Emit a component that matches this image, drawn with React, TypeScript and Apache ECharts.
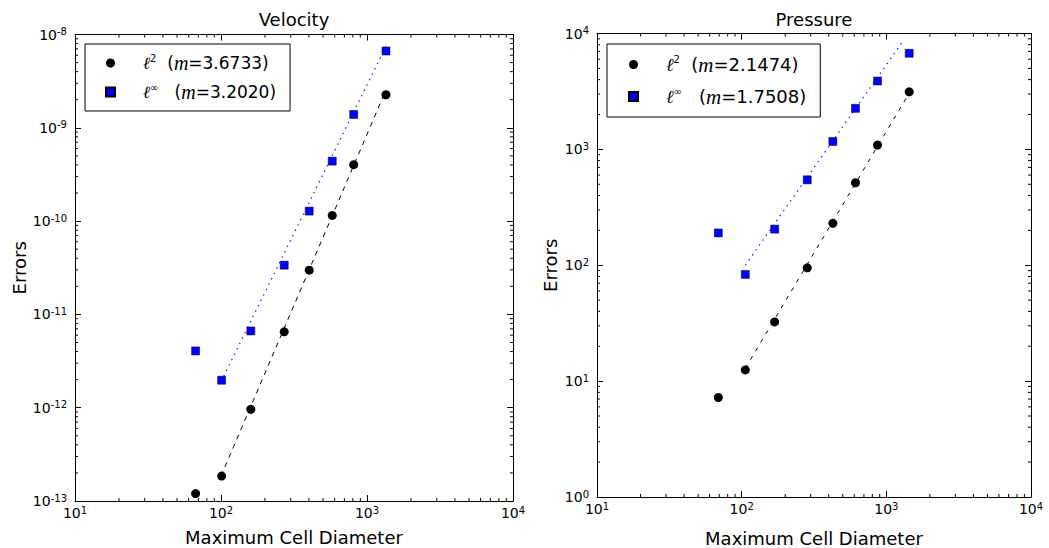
import React, { useEffect, useRef } from "react";
import * as echarts from "echarts";

// ---------- data ----------
const velocityDiameter = [67, 101, 160, 271, 402, 578, 811, 1349];
const velocityL2 = [1.2e-13, 1.85e-13, 9.6e-13, 6.5e-12, 2.98e-11, 1.15e-10, 4.02e-10, 2.26e-9];
const velocityLinf = [4.06e-12, 1.97e-12, 6.65e-12, 3.37e-11, 1.28e-10, 4.39e-10, 1.39e-9, 6.65e-9];
const velocityL2Fit = [[100, 1.85e-13], [1350, 2.55e-9]];
const velocityLinfFit = [[100, 1.9e-12], [1350, 7.5e-9]];
const velocitySlopes = ["3.6733", "3.2020"];

const pressureDiameter = [69, 106, 169, 284, 427, 612, 869, 1439];
const pressureL2 = [7.22, 12.5, 32.4, 95, 230, 515, 1090, 3140];
const pressureLinf = [190, 83.3, 205, 546, 1170, 2260, 3890, 6750];
const pressureL2Fit = [[106, 12.9], [1530, 3480]];
const pressureLinfFit = [[106, 100], [1330, 8900]];
const pressureSlopes = ["2.1474", "1.7508"];

const xRange = [10, 10000];
const velocityRange = [1e-13, 1e-8];
const pressureRange = [1, 10000];

const titles = ["Velocity", "Pressure"];
const xLabel = "Maximum Cell Diameter";
const yLabel = "Errors";

// ---------- helpers ----------
const FONT = "DejaVu Sans";
const tickFmt = (v: number) => `{b|10}{s|${Math.round(Math.log10(v))}}`;
const tickRich = {
  b: { fontFamily: FONT, fontSize: 14, lineHeight: 16, color: "#000" },
  s: { fontFamily: FONT, fontSize: 10, lineHeight: 10, verticalAlign: "top", color: "#000" },
};

const zip = (xs: number[], ys: number[]) => xs.map((x, i) => [x, ys[i]]);

const minorValues = (lo: number, hi: number) => {
  const out: number[] = [];
  const e0 = Math.round(Math.log10(lo));
  const e1 = Math.round(Math.log10(hi));
  for (let e = e0; e < e1; e++) {
    for (let k = 2; k <= 9; k++) out.push(k * Math.pow(10, e));
  }
  return out;
};

const grids = [
  { left: 75, top: 34.5, width: 438, height: 466.5 },
  { left: 597, top: 33.5, width: 434, height: 463.5 },
];

function axesFor(gi: number, yRange: number[], xNameGap: number, yNameGap: number) {
  const common = {
    type: "log",
    logBase: 10,
    gridIndex: gi,
    splitLine: { show: false },
    axisLine: { show: true, onZero: false, lineStyle: { color: "#000", width: 1 } },
    axisTick: { show: true, inside: true, length: 6, lineStyle: { color: "#000", width: 1 } },
    axisLabel: {
      formatter: tickFmt,
      rich: tickRich,
      fontFamily: FONT,
      fontSize: 14,
      color: "#000",
      margin: 4,
    },
  };
  const nameStyle = { fontFamily: FONT, fontSize: 18, color: "#000" };
  const xs = [
    {
      ...common,
      min: xRange[0],
      max: xRange[1],
      position: "bottom",
      name: xLabel,
      nameLocation: "middle",
      nameGap: xNameGap,
      nameTextStyle: nameStyle,
    },
    {
      ...common,
      min: xRange[0],
      max: xRange[1],
      position: "top",
      axisLabel: { show: false },
    },
  ];
  const ys = [
    {
      ...common,
      min: yRange[0],
      max: yRange[1],
      position: "left",
      name: yLabel,
      nameLocation: "middle",
      nameGap: yNameGap,
      nameTextStyle: nameStyle,
      axisLabel: { ...common.axisLabel, margin: 8 },
    },
    {
      ...common,
      min: yRange[0],
      max: yRange[1],
      position: "right",
      axisLabel: { show: false },
    },
  ];
  return { xs, ys };
}

function minorTickSeries(gi: number, yRange: number[]) {
  const xi = gi * 2;
  const yi = gi * 2;
  const tickLen = 3;
  const style = { stroke: "#000", lineWidth: 1 };
  const xSeries = {
    type: "custom",
    xAxisIndex: xi,
    yAxisIndex: yi,
    silent: true,
    z: 1,
    data: minorValues(xRange[0], xRange[1]).map((v) => [v, yRange[0]]),
    renderItem: (params: any, api: any) => {
      const cs = params.coordSys;
      const p = api.coord([api.value(0), api.value(1)]);
      const x = p[0];
      const b = cs.y + cs.height;
      return {
        type: "group",
        children: [
          { type: "line", shape: { x1: x, y1: b, x2: x, y2: b - tickLen }, style },
          { type: "line", shape: { x1: x, y1: cs.y, x2: x, y2: cs.y + tickLen }, style },
        ],
      };
    },
  };
  const ySeries = {
    type: "custom",
    xAxisIndex: xi,
    yAxisIndex: yi,
    silent: true,
    z: 1,
    data: minorValues(yRange[0], yRange[1]).map((v) => [xRange[0], v]),
    renderItem: (params: any, api: any) => {
      const cs = params.coordSys;
      const p = api.coord([api.value(0), api.value(1)]);
      const y = p[1];
      const r = cs.x + cs.width;
      return {
        type: "group",
        children: [
          { type: "line", shape: { x1: cs.x, y1: y, x2: cs.x + tickLen, y2: y }, style },
          { type: "line", shape: { x1: r, y1: y, x2: r - tickLen, y2: y }, style },
        ],
      };
    },
  };
  return [xSeries, ySeries];
}

function dataSeries(
  gi: number,
  diam: number[],
  l2: number[],
  linf: number[],
  l2Fit: number[][],
  linfFit: number[][],
  names: string[],
  dash: number[]
) {
  const xi = gi * 2;
  const yi = gi * 2;
  return [
    {
      type: "line",
      xAxisIndex: xi,
      yAxisIndex: yi,
      data: l2Fit,
      symbol: "none",
      silent: true,
      z: 3,
      lineStyle: { color: "#000", width: 1, type: dash, opacity: 1 },
    },
    {
      type: "line",
      xAxisIndex: xi,
      yAxisIndex: yi,
      data: linfFit,
      symbol: "none",
      silent: true,
      z: 3,
      lineStyle: { color: "#1a1aff", width: 1.2, type: [1.5, 4.5], opacity: 1 },
    },
    {
      type: "scatter",
      name: names[0],
      xAxisIndex: xi,
      yAxisIndex: yi,
      data: zip(diam, l2),
      symbol: "circle",
      symbolSize: 9,
      z: 5,
      itemStyle: { color: "#000", opacity: 1 },
    },
    {
      type: "scatter",
      name: names[1],
      xAxisIndex: xi,
      yAxisIndex: yi,
      data: zip(diam, linf),
      symbol: "rect",
      symbolSize: 8,
      z: 5,
      itemStyle: { color: "#0000ff", borderColor: "#000", borderWidth: 0.5, opacity: 1 },
    },
  ];
}

function richFor(size: number) {
  return {
    l: { fontFamily: "DejaVu Serif", fontStyle: "italic", fontSize: size, lineHeight: 20, color: "#000", padding: [0, 0, 0, 23] },
    s: { fontFamily: FONT, fontSize: 10, lineHeight: 12, verticalAlign: "top", color: "#000" },
    t: { fontFamily: FONT, fontSize: size, lineHeight: 20, color: "#000" },
    m: { fontFamily: "Liberation Serif", fontStyle: "italic", fontSize: size + 3, lineHeight: 20, color: "#000" },
  };
}

function legendFor(
  left: number,
  top: number,
  names: string[],
  slopes: string[],
  gap: number,
  padding: number[],
  size: number
) {
  return {
    left,
    top,
    orient: "vertical",
    selectedMode: false,
    data: [
      { name: names[0], icon: "circle" },
      { name: names[1], icon: "rect" },
    ],
    itemWidth: 9,
    itemHeight: 9,
    itemGap: gap,
    padding,
    borderColor: "#000",
    borderWidth: 1,
    borderRadius: 0,
    backgroundColor: "#fff",
    itemStyle: { opacity: 1 },
    formatter: (name: string) =>
      name === names[0]
        ? `{l|\u2113}{s|2}{t|  (}{m|m}{t|=${slopes[0]})}`
        : `{l|\u2113}{s|\u221E}{t|   (}{m|m}{t|=${slopes[1]})}`,
    textStyle: { fontFamily: FONT, fontSize: size, color: "#000", rich: richFor(size) },
  };
}

export default function App() {
  const ref = useRef<HTMLDivElement>(null);
  useEffect(() => {
    if (!ref.current) return;
    const chart = echarts.init(ref.current, null, { renderer: "svg" });
    const a0 = axesFor(0, velocityRange, 27, 46);
    const a1 = axesFor(1, pressureRange, 32, 38);
    const vNames = ["l2 velocity", "linf velocity"];
    const pNames = ["l2 pressure", "linf pressure"];
    const option: any = {
      animation: false,
      backgroundColor: "#fff",
      grid: grids.map((g) => ({ ...g, containLabel: false, outerBoundsMode: "none" })),
      xAxis: [...a0.xs, ...a1.xs],
      yAxis: [...a0.ys, ...a1.ys],
      legend: [
        legendFor(85, 44, vNames, velocitySlopes, 9, [9, 14, 9, 20], 17),
        legendFor(607, 44, pNames, pressureSlopes, 11, [10, 14, 10, 21], 18),
      ],
      graphic: [
        {
          type: "text",
          x: grids[0].left + grids[0].width / 2,
          y: 19,
          style: {
            text: titles[0],
            fontFamily: FONT,
            fontSize: 18,
            fill: "#000",
            textAlign: "center",
            textVerticalAlign: "middle",
          },
        },
        {
          type: "text",
          x: grids[1].left + grids[1].width / 2,
          y: 19,
          style: {
            text: titles[1],
            fontFamily: FONT,
            fontSize: 18,
            fill: "#000",
            textAlign: "center",
            textVerticalAlign: "middle",
          },
        },
      ],
      series: [
        ...minorTickSeries(0, velocityRange),
        ...minorTickSeries(1, pressureRange),
        ...dataSeries(0, velocityDiameter, velocityL2, velocityLinf, velocityL2Fit, velocityLinfFit, vNames, [5, 5]),
        ...dataSeries(1, pressureDiameter, pressureL2, pressureLinf, pressureL2Fit, pressureLinfFit, pNames, [4, 6]),
      ],
    };
    chart.setOption(option);
    return () => chart.dispose();
  }, []);
  return (
    <div
      ref={ref}
      style={{ position: "fixed", left: 0, top: 0, width: 1049, height: 548, background: "#fff" }}
    />
  );
}
